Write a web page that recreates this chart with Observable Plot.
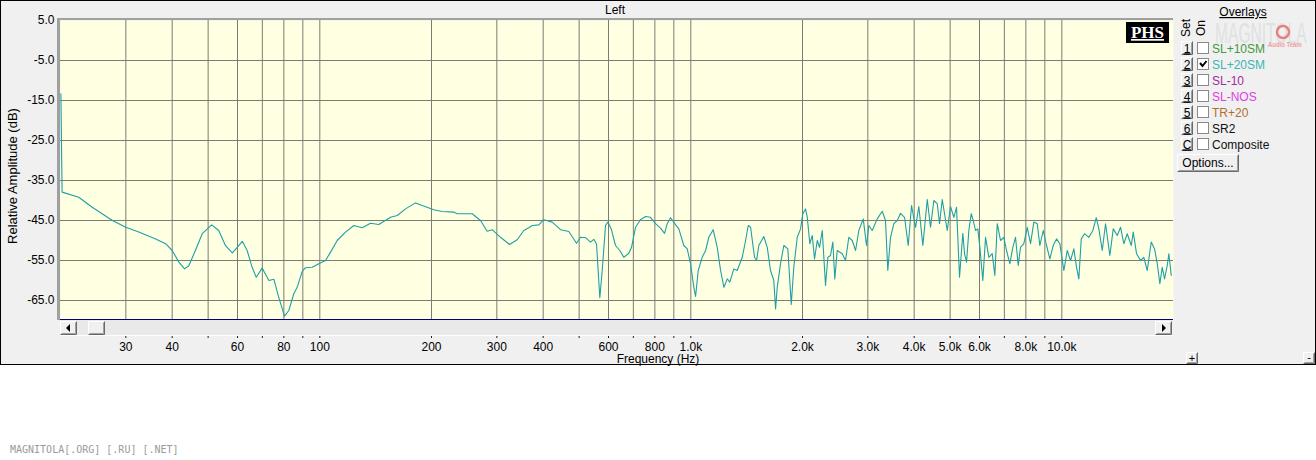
<!DOCTYPE html>
<html><head><meta charset="utf-8">
<script src="https://cdn.jsdelivr.net/npm/d3@7"></script>
<script src="https://cdn.jsdelivr.net/npm/@observablehq/plot@0.6"></script>
<style>
html,body{margin:0;padding:0;background:#fff;}
#wrap{position:relative;width:1316px;height:460px;overflow:hidden;}
#caption{position:absolute;left:10px;top:444px;font-family:"DejaVu Sans Mono",monospace;font-size:10px;color:#9a9a9a;letter-spacing:0px;}
</style></head><body>
<div id="wrap"><div id="chart"></div><div id="caption">MAGNITOLA[.ORG] [.RU] [.NET]</div></div>
<script>
// ---- data ----
const title = "Left";
const yLabel = "Relative Amplitude (dB)";
const xLabel = "Frequency (Hz)";
const yTicks = [5, -5, -15, -25, -35, -45, -55, -65];
const gridFreqs = [30,40,50,60,70,80,90,100,200,300,400,500,600,700,800,900,1000,2000,3000,4000,5000,6000,7000,8000,9000,10000];
const labelFreqs = [30,40,60,80,100,200,300,400,600,800,1000,2000,3000,4000,5000,6000,8000,10000];
const overlayNames = ["SL+10SM","SL+20SM","SL-10","SL-NOS","TR+20","SR2","Composite"];
const overlaySets = ["1","2","3","4","5","6","C"];
const overlayColors = ["#3f9a3f","#3bb5b5","#a02ca0","#e03ce0","#b0702c","#111","#111"];
const overlayOn = [false,true,false,false,false,false,false];

const freq = [
 20.05,20.12,20.2,22.4,24.35,27.6,30,32.5,36.1,38.4,40,41.7,
 43.2,44.35,46.2,48.2,51.1,53.4,55.7,58.1,59.9,61.8,
 63.7,65.7,67.4,69.9,72.9,75.2,77.5,80.3,82.5,85.1,
 86.9,89.65,91.5,95.4,99.4,103.6,106.9,111.4,117.3,123.5,
 130.1,137,144.2,155.1,161.7,170.2,181.1,188.8,202.9,213.8,
 229.7,234.6,257.5,271.1,282.6,291.5,306.9,324.6,340.4,354.7,
 365.9,373.7,389.3,401.6,423.1,445.5,469,492,504.3,520.2,
 536.6,547.7,556.9,568.5,577,589,597.4,610.2,626.6,643.6,
 659.8,680.6,692.1,709.5,731.8,754.9,778.7,803.3,828.6,849.4,
 863.8,881.7,903.8,928.3,957.5,978,998.2,1019,1030,1047,
 1073,1096,1118,1149,1178,1203,1228,1254,1274,1306,
 1334,1376,1405,1428,1449,1485,1504,1525,1573,1607,
 1640,1674,1692,1710,1745,1781,1826,1865,1895,1936,
 1976,2004,2038,2060,2093,2125,2155,2192,2223,2261,
 2307,2341,2380,2414,2444,2481,2559,2612,2666,2723,
 2780,2837,2916,2976,3019,3083,3180,3281,3348,3396,
 3454,3526,3601,3675,3768,3855,3935,4034,4117,4221,
 4338,4427,4519,4615,4682,4761,4911,5012,5116,5202,
 5300,5410,5468,5536,5616,5700,5771,5854,5938,6012,
 6125,6229,6358,6493,6599,6698,6836,6978,7096,7242,
 7378,7503,7630,7740,7900,8068,8236,8406,8585,8725,
 8911,9095,9284,9482,9678,9878,10127,10343,10557,10775,
 10957,11115,11282,11516,11827,12124,12383,12584,12852,13118,
 13473,13760,14106,14398,14695,15008,15387,15579,15901,16301,
 16638,16993,17420,17781,18082,18376,18652,18921,19239,19432,19724
];
const level = [
 -13.3,-25.5,-37.9,-39.2,-41.7,-45,-46.7,-47.9,-49.6,-50.8,-52.5,-55.4,
 -57.1,-56.3,-52.5,-48.3,-46.1,-47.5,-51.3,-53.1,-51.7,-50.2,
 -52.5,-56.7,-59.2,-56.9,-60,-59.7,-64.2,-68.9,-67.5,-63.3,
 -61.7,-57.7,-56.8,-56.7,-55.8,-55,-52.9,-50,-47.9,-46.25,
 -46.8,-45.7,-46,-44.2,-43.75,-42.1,-40.6,-41.25,-42.3,-42.75,
 -42.9,-43.3,-43.3,-45,-47.7,-47.3,-49.2,-51,-49.8,-47.5,
 -46.8,-46.25,-46.1,-44.8,-45.4,-47.3,-47.75,-50.7,-49.2,-49.3,
 -50.4,-49.7,-50.8,-64.3,-57.5,-46.25,-45.4,-47.1,-51.25,-52.5,
 -54.2,-53.2,-51.7,-46.7,-44.8,-44,-44.2,-45.8,-46.9,-48.2,
 -45.8,-44.3,-45.7,-47.1,-51.25,-52.1,-55.8,-61.7,-64,-57.5,
 -54.2,-52.5,-49.2,-47.3,-51.7,-57.5,-61.7,-59.6,-60.4,-57.1,
 -57.5,-54.2,-50,-46.25,-46.7,-54.2,-55,-51.25,-49,-51.7,
 -57.5,-60,-67.1,-61.7,-55.8,-51.25,-52.1,-66,-56.7,-49.2,
 -47.1,-43.3,-42.1,-44.2,-50.8,-48.75,-54.6,-50,-51.7,-47.5,
 -61.25,-54.2,-53.75,-50.4,-59.6,-52.5,-53.3,-55,-49.2,-50,
 -52.5,-47.5,-44.6,-51.25,-46.25,-47.5,-44.6,-42.7,-45,-57.5,
 -49.2,-45.8,-45,-43.2,-44.2,-51.25,-41.25,-46.7,-41.5,-51.25,
 -39.75,-46.7,-40,-40.8,-45.8,-39.75,-47.5,-41.5,-44.2,-41.7,
 -59.2,-48.2,-53.3,-55.4,-47.5,-43.3,-45,-47.5,-47.1,-51.7,
 -60,-49.2,-54.2,-53.3,-58.75,-45.8,-50,-49.2,-52.5,-55.8,
 -51.7,-49.2,-56.25,-51.7,-50.8,-46.7,-50.8,-45.4,-45.8,-51.25,
 -47.5,-51.25,-54.6,-51.25,-49.6,-50.8,-57.5,-52.5,-55,-52.1,
 -56.7,-59.6,-49.6,-48.3,-49.2,-47.5,-44.3,-47.1,-52.5,-45.8,
 -53.75,-47.1,-48.75,-46.7,-50.8,-48.3,-51.25,-47.9,-53.3,-55,
 -54.2,-57.5,-50.4,-52.1,-55.8,-60.8,-56.7,-59.6,-56.25,-53.3,-58.75
];
if (freq.length !== level.length) throw new Error("length mismatch " + freq.length + " vs " + level.length);
const data = freq.map((f, i) => ({f, db: level[i]}));

const FONT = "'Liberation Sans', Arial, sans-serif";
const fmtHz = f => f < 1000 ? String(f) : (f / 1000).toFixed(1) + "k";

const chart = Plot.plot({
  width: 1316, height: 365,
  marginLeft: 60, marginRight: 143, marginTop: 20, marginBottom: 45,
  style: {background: "#f0f0f0", fontFamily: FONT, fontSize: "12px", color: "#000", overflow: "visible"},
  x: {type: "log", domain: [20, 20000]},
  y: {domain: [-70, 5]},
  marks: [
    Plot.frame({fill: "#ffffe1", stroke: null}),
    Plot.ruleY(yTicks.filter(d => d < 5), {stroke: "#7c7c72", strokeWidth: 1}),
    Plot.ruleX(gridFreqs, {stroke: "#7c7c72", strokeWidth: 1}),
    Plot.line(data, {x: "f", y: "db", stroke: "#1f9fa8", strokeWidth: 1.1}),
    Plot.axisY(yTicks, {tickSize: 0, tickPadding: 6, tickFormat: d => d.toFixed(1), label: null}),
    Plot.axisX(gridFreqs, {tickSize: 3, tickPadding: 0, tickFormat: () => "", dy: 15, label: null, stroke: "#222"}),
    Plot.text(labelFreqs, {x: d => d, frameAnchor: "bottom", dy: 27, lineAnchor: "middle", text: fmtHz, fill: "#000"})
  ]
});
document.getElementById("chart").appendChild(chart);

// ---- window chrome ----
const svg = d3.select(chart);
const g = svg.append("g").attr("font-family", FONT).attr("font-size", 12).attr("text-anchor", "start");

function bevel(x, y, w, h) {
  g.append("rect").attr("x", x).attr("y", y).attr("width", w).attr("height", h).attr("fill", "#f0f0f0");
  g.append("path").attr("d", `M${x+0.5},${y+h-0.5}V${y+0.5}H${x+w-0.5}`).attr("stroke", "#fff").attr("fill", "none");
  g.append("path").attr("d", `M${x+0.5},${y+h-0.5}H${x+w-0.5}V${y+0.5}`).attr("stroke", "#696969").attr("fill", "none");
  g.append("path").attr("d", `M${x+1.5},${y+h-1.5}H${x+w-1.5}V${y+1.5}`).attr("stroke", "#a0a0a0").attr("fill", "none");
}

// plot borders
g.append("rect").attr("x", 57).attr("y", 18).attr("width", 3).attr("height", 302).attr("fill", "#a0a0a0");
g.append("rect").attr("x", 57).attr("y", 18).attr("width", 1116).attr("height", 2).attr("fill", "#a0a0a0");
g.append("line").attr("x1", 60).attr("x2", 1173).attr("y1", 319.5).attr("y2", 319.5).attr("stroke", "#000080");

// scrollbar
g.append("rect").attr("x", 60).attr("y", 320).attr("width", 1112).attr("height", 15).attr("fill", "#e9e9e9");
g.append("line").attr("x1", 60).attr("x2", 1172).attr("y1", 335.5).attr("y2", 335.5).attr("stroke", "#fff");
bevel(60, 321, 17, 14);
g.append("path").attr("d", "M66,328 L70,324 L70,332 Z").attr("fill", "#000");
bevel(88, 321, 17, 14);
bevel(1155, 321, 17, 14);
g.append("path").attr("d", "M1166,328 L1162,324 L1162,332 Z").attr("fill", "#000");

// titles
g.append("text").attr("x", 615).attr("y", 14).attr("text-anchor", "middle").text(title);
g.append("text").attr("transform", "translate(17,176) rotate(-90)").attr("text-anchor", "middle").attr("font-size", 13).text(yLabel);
g.append("text").attr("x", 658).attr("y", 363).attr("text-anchor", "middle").text(xLabel);

// PHS badge
g.append("rect").attr("x", 1126).attr("y", 22).attr("width", 43).attr("height", 21).attr("fill", "#000");
g.append("text").attr("x", 1147.5).attr("y", 38).attr("text-anchor", "middle").attr("fill", "#fff")
  .attr("font-family", "'Liberation Serif', 'DejaVu Serif', serif").attr("font-weight", "bold").attr("font-size", 17)
  .attr("text-decoration", "underline").text("PHS");

// watermark (faint logo behind the overlay list)
g.append("text").attr("transform", "translate(1215,43) scale(0.52,1)").attr("font-size", 30).attr("fill", "#dde2e2").text("MAGNITOLA");
g.append("circle").attr("cx", 1283).attr("cy", 32).attr("r", 6).attr("fill", "none").attr("stroke", "#e88080").attr("stroke-width", 2.5);
g.append("text").attr("transform", "translate(1268,47) scale(0.85,1)").attr("font-size", 7).attr("font-weight", "bold").attr("fill", "#eaa0a0").text("Audio Team");

// overlays panel
g.append("text").attr("x", 1243).attr("y", 16).attr("text-anchor", "middle").attr("text-decoration", "underline").text("Overlays");
g.append("text").attr("transform", "translate(1190,28) rotate(-90)").attr("text-anchor", "middle").text("Set");
g.append("text").attr("transform", "translate(1205,28) rotate(-90)").attr("text-anchor", "middle").text("On");
overlayNames.forEach((name, i) => {
  const cy = 48 + 16 * i;
  bevel(1181, cy - 7, 12, 14);
  g.append("text").attr("x", 1187).attr("y", cy + 4.5).attr("text-anchor", "middle").attr("text-decoration", "underline").text(overlaySets[i]);
  g.append("rect").attr("x", 1197.5).attr("y", cy - 5.5).attr("width", 11).attr("height", 11).attr("fill", "#fff").attr("stroke", "#8a8a8a");
  if (overlayOn[i]) g.append("path").attr("d", `M1200,${cy-1} L1202.5,${cy+2} L1206.5,${cy-3}`).attr("fill", "none").attr("stroke", "#000").attr("stroke-width", 2);
  g.append("text").attr("x", 1212).attr("y", cy + 4.5).attr("fill", overlayColors[i]).text(name);
});
bevel(1177, 154, 62, 18);
g.append("text").attr("x", 1208).attr("y", 167).attr("text-anchor", "middle").text("Options...");

// zoom buttons
bevel(1186, 352, 12, 12);
g.append("text").attr("x", 1192).attr("y", 362).attr("text-anchor", "middle").attr("font-size", 11).text("+");
bevel(1303, 352, 12, 12);
g.append("text").attr("x", 1309).attr("y", 361).attr("text-anchor", "middle").attr("font-size", 11).text("-");

// window border
g.append("rect").attr("x", 0.5).attr("y", 0.5).attr("width", 1315).attr("height", 364).attr("fill", "none").attr("stroke", "#000");
</script>
</body></html>
